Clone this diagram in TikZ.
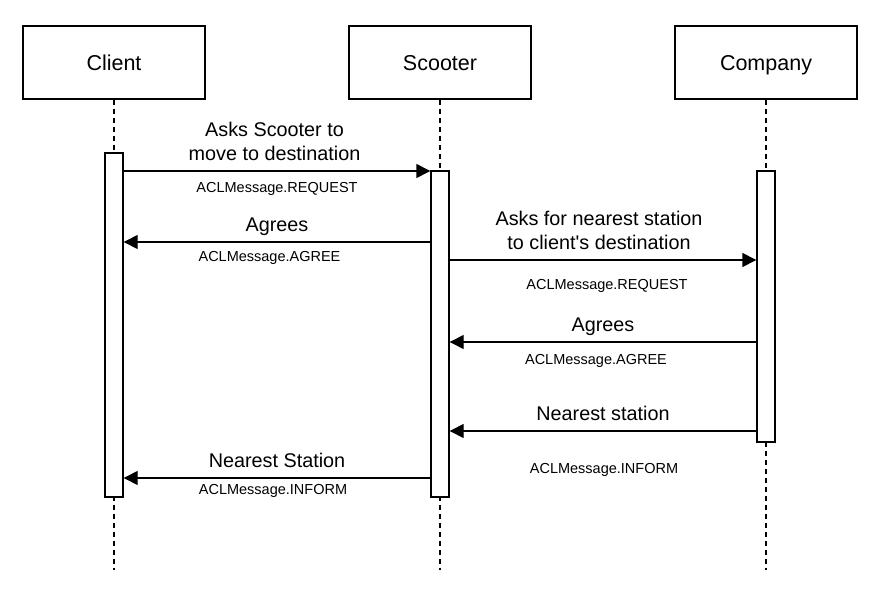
\documentclass[tikz,border=0pt]{standalone}
\usepackage{fontspec}
\setmainfont{Liberation Sans}
\usetikzlibrary{arrows.meta}

\begin{document}
\begin{tikzpicture}[x=1pt,y=-1pt,
	agent/.style={draw,line width=1.4pt,fill=white,minimum width=182pt,minimum height=73pt,text height=15.4pt,text depth=0pt,font=\fontsize{21.5}{26}\selectfont},
	activation/.style={draw,line width=1.4pt,fill=white,minimum width=18pt,inner sep=0pt},
	lifeline/.style={line width=1.4pt,dash pattern=on 5pt off 4pt},
	msg/.style={line width=1.4pt,-{Triangle[length=14pt,width=14pt]}},
	says/.style={above=6pt,inner sep=0pt,align=center,text depth=4pt,font=\fontsize{19.8}{24}\selectfont},
	acl/.style={below=#1,inner sep=0pt,text height=10.5pt,text depth=0pt,font=\fontsize{14.5}{17}\selectfont}]
	\useasboundingbox (0,0) rectangle (878,605);

	\node[agent] (client) at (114,62.5) {Client};
	\node[agent] (scooter) at (440,62.5) {Scooter};
	\node[agent] (company) at (766,62.5) {Company};

	\coordinate (clientend) at (114,570);
	\coordinate (scooterend) at (440,570);
	\coordinate (companyend) at (766,570);
	\foreach \who in {client,scooter,company}
		\draw[lifeline] (\who) -- (\who end);

	\node[activation,minimum height=344pt] (clientbar) at (114,325) {};
	\node[activation,minimum height=326pt] (scooterbar) at (440,334) {};
	\node[activation,minimum height=271pt] (companybar) at (766,306.5) {};

	\draw[msg] (clientbar.east |- 0,171) -- node[says,xshift=-2.5pt] {Asks Scooter to\\move to destination}
		node[acl=10pt] {ACLMessage.REQUEST} (scooterbar.west |- 0,171);
	\draw[msg] (scooterbar.west |- 0,242) -- node[says] {Agrees}
		node[acl=8.3pt,xshift=-7.5pt] {ACLMessage.AGREE} (clientbar.east |- 0,242);
	\draw[msg] (scooterbar.east |- 0,260) -- node[says,xshift=-4pt] {Asks for nearest station\\to client\textquotesingle s destination}
		node[acl=18.3pt,xshift=4pt] {ACLMessage.REQUEST} (companybar.west |- 0,260);
	\draw[msg] (companybar.west |- 0,342) -- node[says] {Agrees}
		node[acl=11.3pt,xshift=-7pt] {ACLMessage.AGREE} (scooterbar.east |- 0,342);
	\draw[msg] (companybar.west |- 0,431) -- node[says] {Nearest station}
		node[acl=31.6pt,xshift=1pt] {ACLMessage.INFORM} (scooterbar.east |- 0,431);
	\draw[msg] (scooterbar.west |- 0,478) -- node[says] {Nearest Station}
		node[acl=5.6pt,xshift=-4pt] {ACLMessage.INFORM} (clientbar.east |- 0,478);
\end{tikzpicture}
\end{document}
